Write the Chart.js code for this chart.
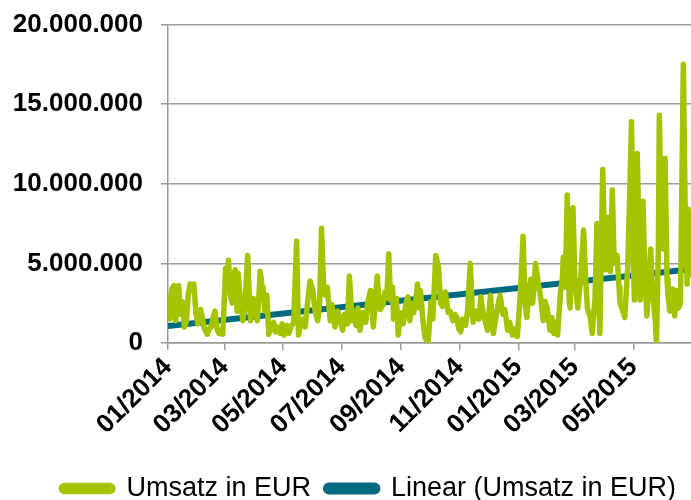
<!DOCTYPE html>
<html>
<head>
<meta charset="utf-8">
<script src="https://cdn.jsdelivr.net/npm/chart.js@4/dist/chart.umd.min.js"></script>
<style>
  html, body { margin: 0; padding: 0; background: #fff; }
  #wrap { width: 691px; height: 500px; position: relative; }
</style>
</head>
<body>
<div id="wrap"><canvas id="umsatzChart"></canvas></div>
<script>
// Days since 01.01.2014 and turnover in million EUR
const days = [
  0, 2, 4, 6, 8, 10, 11, 13, 15, 17, 19, 21, 23, 25, 27, 29, 31, 34, 36, 38,
  41, 43, 45, 47, 49, 51, 53, 55, 57, 59, 60, 62, 63, 65, 67, 69, 70, 72, 73, 75,
  78, 80, 83, 85, 86, 89, 91, 93, 95, 96, 98, 99, 101, 103, 105, 107, 110, 112, 114, 117,
  119, 121, 124, 126, 128, 131, 134, 136, 138, 141, 143, 145, 148, 150, 151, 153, 156, 158, 160, 162,
  164, 166, 169, 171, 172, 174, 177, 180, 182, 184, 187, 189, 192, 194, 196, 198, 200, 203, 206, 208,
  211, 214, 216, 218, 220, 221, 224, 226, 228, 230, 232, 234, 235, 238, 240, 242, 245, 248, 250, 252,
  254, 256, 258, 260, 262, 263, 266, 268, 271, 274, 276, 279, 282, 284, 286, 289, 292, 294, 297, 299,
  301, 303, 305, 307, 310, 312, 315, 317, 318, 321, 324, 326, 328, 330, 333, 336, 337, 339, 342, 344,
  346, 349, 351, 354, 356, 359, 362, 364, 367, 370, 372, 374, 376, 378, 380, 383, 386, 388, 391, 393,
  395, 398, 400, 402, 404, 406, 409, 411, 412, 414, 416, 418, 419, 422, 424, 427, 430, 433, 435, 437,
  440, 442, 445, 447, 449, 450, 453, 455, 456, 459, 461, 463, 465, 468, 470, 471, 474, 476, 479, 481,
  483, 485, 486, 489, 491, 492, 495, 497, 499, 501, 503, 505, 506, 508, 509, 511, 512, 514, 516, 518,
  520, 521, 523, 526, 528, 530, 532, 534, 537, 539, 541, 542, 544, 545
];
const umsatzMio = [
  2.9, 1.5, 3.4, 3.6, 1.4, 3.5, 3.6, 1.8, 2.6, 1.0, 1.3, 3.0, 3.7, 3.3, 3.7, 1.9, 1.2, 2.1, 1.5, 0.9,
  0.55, 0.9, 1.0, 1.6, 2.0, 0.9, 0.6, 0.8, 0.55, 3.2, 4.7, 4.0, 5.2, 3.0, 2.5, 4.3, 4.6, 2.0, 4.4, 3.0,
  1.4, 2.2, 5.5, 2.5, 1.4, 2.8, 2.0, 1.4, 3.2, 4.5, 3.6, 3.5, 2.0, 3.0, 0.55, 0.9, 1.3, 0.7, 1.0, 0.6,
  1.2, 0.5, 1.1, 0.6, 1.0, 1.3, 6.4, 0.5, 1.2, 1.5, 1.0, 2.3, 3.9, 3.5, 3.3, 2.1, 1.4, 2.5, 7.2, 3.7,
  3.0, 3.5, 1.4, 2.4, 1.8, 1.0, 2.0, 1.3, 0.8, 1.8, 1.2, 4.2, 1.4, 2.0, 1.1, 2.2, 0.8, 1.9, 1.3, 2.5,
  3.3, 1.0, 2.7, 4.2, 2.6, 2.1, 2.4, 3.2, 2.8, 5.6, 2.7, 3.5, 1.5, 2.8, 0.5, 1.9, 1.2, 2.5, 2.9, 1.4,
  2.5, 1.9, 2.6, 3.7, 2.2, 3.3, 1.2, 0.3, 0.0, 2.6, 1.5, 5.5, 4.7, 2.5, 2.3, 3.2, 1.9, 2.0, 1.4, 1.8,
  1.6, 0.9, 0.7, 1.5, 1.1, 1.9, 5.0, 2.2, 1.3, 2.0, 1.5, 2.9, 2.0, 1.5, 0.8, 3.0, 2.2, 0.6, 1.7, 2.4,
  3.0, 1.8, 2.1, 0.8, 1.3, 0.5, 0.9, 0.4, 2.9, 6.7, 2.5, 1.6, 3.2, 4.0, 2.5, 5.0, 3.7, 3.0, 1.4, 2.6,
  2.2, 0.8, 1.6, 0.6, 1.3, 0.5, 3.2, 4.1, 5.4, 3.5, 9.3, 2.7, 2.2, 8.5, 3.9, 2.2, 4.0, 7.1, 4.3, 2.2,
  1.6, 0.6, 2.8, 7.5, 3.4, 0.6, 10.9, 6.0, 4.6, 7.9, 4.5, 9.6, 5.0, 5.5, 3.5, 2.5, 2.0, 1.6, 4.7, 9.0,
  13.9, 5.2, 2.7, 11.9, 6.0, 2.7, 8.9, 4.0, 1.7, 3.5, 5.9, 3.0, 2.6, 1.2, 0.0, 6.0, 14.3, 7.0, 5.9, 11.6,
  4.0, 3.0, 2.0, 3.4, 1.7, 3.3, 2.2, 2.5, 17.5, 8.0, 3.7, 8.4, 4.3, 8.0
];

// Linear trend (Excel trendline), read at start and end of the axis
const trendDays = [0, 545];
const trendMio = [1.07, 4.63];

// X axis tick positions (first day of every second month) and labels
const tickDays = [0, 59, 120, 181, 243, 304, 365, 424, 485];
const tickLabels = ['01/2014', '03/2014', '05/2014', '07/2014', '09/2014', '11/2014', '01/2015', '03/2015', '05/2015'];

const GREEN = '#a3c400';
const TEAL = '#006a80';
const GRID = '#9a9a9a';
const FONT = "'Liberation Sans', Arial, sans-serif";

function toPoints(xs, ys) {
    return xs.map((x, i) => ({ x: x, y: ys[i] * 1000000 }));
}

function formatDE(v) {
    return v.toString().replace(/\B(?=(\d{3})+(?!\d))/g, '.');
}

const ctx = document.getElementById('umsatzChart').getContext('2d');
new Chart(ctx, {
    type: 'line',
    data: {
        datasets: [{
            label: 'Umsatz in EUR',
            data: toPoints(days, umsatzMio),
            borderColor: GREEN,
            backgroundColor: GREEN,
            borderWidth: 5.5,
            pointRadius: 0,
            tension: 0,
            borderJoinStyle: 'round',
            borderCapStyle: 'round'
        }, {
            label: 'Linear (Umsatz in EUR)',
            data: toPoints(trendDays, trendMio),
            borderColor: TEAL,
            backgroundColor: TEAL,
            borderWidth: 6,
            pointRadius: 0,
            tension: 0
        }]
    },
    options: {
        responsive: true,
        maintainAspectRatio: false,
        animation: false,
        layout: {
            padding: { left: 0, right: 0, top: 24.5, bottom: -12 }
        },
        scales: {
            x: {
                type: 'linear',
                min: 0,
                max: 545,
                afterBuildTicks: (axis) => {
                    axis.ticks = tickDays.map(v => ({ value: v }));
                },
                afterFit: (axis) => {
                    axis.height = 117;
                },
                ticks: {
                    autoSkip: false,
                    minRotation: 45,
                    maxRotation: 45,
                    padding: 2,
                    color: '#000',
                    font: { family: FONT, size: 26, weight: 'bold' },
                    callback: (value) => tickLabels[tickDays.indexOf(value)] || ''
                },
                grid: {
                    drawOnChartArea: false,
                    drawTicks: true,
                    tickLength: 7,
                    color: GRID,
                    lineWidth: 1.5
                },
                border: { color: GRID, width: 1.5 }
            },
            y: {
                min: 0,
                max: 20000000,
                afterFit: (axis) => {
                    axis.width = 168;
                    axis.paddingTop = 0;
                    axis.paddingBottom = 0;
                },
                ticks: {
                    stepSize: 5000000,
                    padding: 18,
                    color: '#000',
                    font: { family: FONT, size: 26, weight: 'bold' },
                    callback: (value) => formatDE(value)
                },
                grid: {
                    color: GRID,
                    lineWidth: 1.5,
                    tickLength: 7
                },
                border: { color: GRID, width: 1.5 }
            }
        },
        plugins: {
            legend: {
                position: 'bottom',
                align: 'end',
                labels: {
                    boxWidth: 51.5,
                    boxHeight: 6,
                    padding: 15,
                    useBorderRadius: true,
                    borderRadius: 3,
                    color: '#000',
                    font: { family: FONT, size: 27 }
                }
            },
            tooltip: { enabled: false }
        }
    }
});
</script>
</body>
</html>
